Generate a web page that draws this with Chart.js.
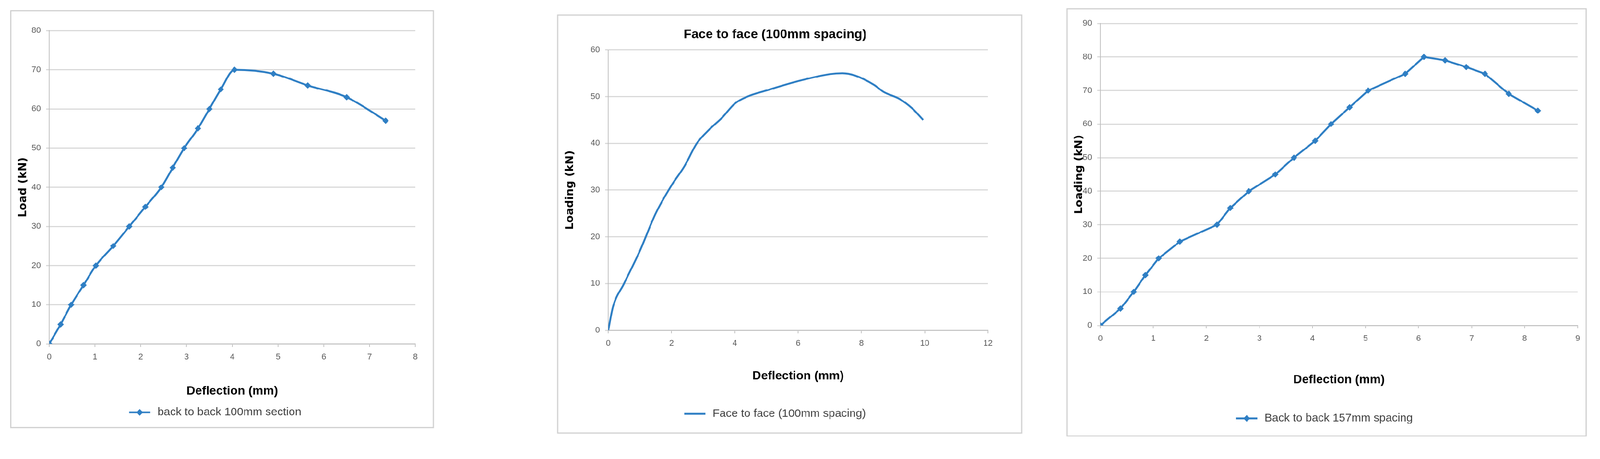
<!DOCTYPE html>
<html><head><meta charset="utf-8">
<script src="https://cdn.jsdelivr.net/npm/chart.js@4"></script>
<style>
html,body{margin:0;background:#fff;overflow:hidden}
#wrap{width:4230px;height:1176px;position:relative;transform-origin:0 0}
.p{position:absolute;border:3px solid #cfcfcf;box-sizing:border-box;background:#fff}
</style></head><body>
<div id="wrap">
<div class="p" style="left:27px;top:27px;width:1120px;height:1106px"><canvas id="c1"></canvas></div>
<div class="p" style="left:1473px;top:38px;width:1230px;height:1109px"><canvas id="c2"></canvas></div>
<div class="p" style="left:2819px;top:22px;width:1376px;height:1133px"><canvas id="c3"></canvas></div>
</div>
<script>
// Panel 1: back to back 100mm section
const defl1 = [0,0.25,0.48,0.75,1.02,1.4,1.75,2.1,2.45,2.7,2.95,3.25,3.5,3.75,4.05,4.9,5.65,6.5,7.35];
const load1 = [0,5,10,15,20,25,30,35,40,45,50,55,60,65,70,69,66,63,57];
// Panel 2: Face to face (100mm spacing)
const defl2 = [0,0.15,0.5,1,1.5,2,2.4,2.8,3.2,3.6,4,4.4,5,6,7,7.4,7.8,8.4,8.7,9.2,9.6,9.95];
const load2 = [0,5,10,17,25,31,35,40,43,45.5,48.5,50,51.3,53.3,54.8,55,54.5,52.5,51,49.5,47.5,45];
// Panel 3: Back to back 157mm spacing
const defl3 = [0,0.38,0.63,0.85,1.1,1.5,2.2,2.45,2.8,3.3,3.65,4.05,4.35,4.7,5.05,5.75,6.1,6.5,6.9,7.25,7.7,8.25];
const load3 = [0,5,10,15,20,25,30,35,40,45,50,55,60,65,70,75,80,79,77,75,69,64];

const sc = Math.min(1, window.innerWidth / 4230);
if (sc < 1) document.getElementById('wrap').style.transform = 'scale(' + sc + ')';

const BLUE = '#2f7fc4';
const NARROW = "'Liberation Sans Narrow','Liberation Sans',Arial,sans-serif";
const TICK = {family:NARROW, size:22};
function pts(xs, ys){ return xs.map((x,i)=>({x, y:ys[i]})); }

// legend sample: line with optional diamond
const legendSample = {
  id:'legendSample',
  afterDraw(chart, args, opts){
    const lg = chart.legend; if(!lg || !lg.legendHitBoxes.length) return;
    const hb = lg.legendHitBoxes[0];
    const ctx = chart.ctx, cy = hb.top + hb.height/2, x0 = hb.left, x1 = hb.left + 56;
    ctx.save();
    ctx.fillStyle = '#fff'; ctx.fillRect(x0-2, hb.top, 62, hb.height);
    ctx.strokeStyle = BLUE; ctx.lineWidth = 5;
    ctx.beginPath(); ctx.moveTo(x0, cy); ctx.lineTo(x1, cy); ctx.stroke();
    if (opts.marker){
      const m = (x0+x1)/2, r = 9;
      ctx.fillStyle = BLUE; ctx.beginPath();
      ctx.moveTo(m, cy-r); ctx.lineTo(m+r, cy); ctx.lineTo(m, cy+r); ctx.lineTo(m-r, cy); ctx.closePath(); ctx.fill();
    }
    ctx.restore();
  }
};

function make(id, o){
  const el = document.getElementById(id);
  const box = el.parentElement;
  el.width = box.clientWidth; el.height = box.clientHeight;
  new Chart(el, {
    type:'scatter',
    plugins:[legendSample],
    data:{datasets:[{
      label:o.label, data:pts(o.xs,o.ys), showLine:true,
      borderColor:BLUE, backgroundColor:BLUE, borderWidth:5,
      pointStyle:'rectRot',
      pointRadius:o.marker ? 8 : 0, pointBorderWidth:1,
      cubicInterpolationMode:o.smooth ? 'monotone' : 'default', tension:0
    }]},
    options:{
      responsive:false, animation:false, maintainAspectRatio:false, devicePixelRatio:1,
      layout:{padding:{top:o.padTop,right:o.padRight,left:10,bottom:o.padBottom}},
      plugins:{
        legendSample:{marker:o.marker},
        title:{display:!!o.title, text:o.title||'', color:'#000',
          font:{family:NARROW,size:34,weight:'bold'}, padding:{top:30,bottom:20}},
        legend:{position:'bottom', labels:{usePointStyle:true, pointStyleWidth:60, boxHeight:10,
          color:'#404040', font:{family:NARROW,size:30}, padding:6}},
        tooltip:{enabled:false}
      },
      scales:{
        x:{type:'linear', min:0, max:o.xmax, ticks:{stepSize:o.xstep, color:'#595959', font:TICK, padding:14},
          grid:{drawOnChartArea:false, color:'#bfbfbf', lineWidth:2, tickLength:8},
          border:{color:'#bfbfbf', width:2},
          title:{display:true, text:'Deflection (mm)', color:'#000',
            font:{family:NARROW,size:32,weight:'bold'}, padding:{top:28,bottom:o.xTitleBottom}},
          afterFit:s=>{s.height=o.xh;}},
        y:{min:0, max:o.ymax, ticks:{stepSize:10, color:'#595959', font:TICK, padding:14},
          grid:{color:'#d9d9d9', lineWidth:3, tickLength:8},
          border:{color:'#bfbfbf', width:2},
          title:{display:true, text:o.ytitle, color:'#000',
            font:{family:"'DejaVu Sans',sans-serif",size:29,weight:'bold'}, padding:{bottom:6}},
          afterFit:s=>{s.width=o.yw;}}
      }
    }
  });
}

make('c1',{label:'back to back 100mm section',xs:defl1,ys:load1,marker:true,smooth:true,
  xmax:8,xstep:1,ymax:80,ytitle:'Load (kN)',padTop:51,padRight:46,padBottom:14,yw:90,xh:160,xTitleBottom:16});
make('c2',{label:'Face to face (100mm spacing)',xs:defl2,ys:load2,marker:false,smooth:true,title:'Face to face (100mm spacing)',
  xmax:12,xstep:2,ymax:60,ytitle:'Loading (kN)',padTop:0,padRight:88,padBottom:24,yw:122,xh:200,xTitleBottom:60});
make('c3',{label:'Back to back 157mm spacing',xs:defl3,ys:load3,marker:true,smooth:false,
  xmax:9,xstep:1,ymax:90,ytitle:'Loading (kN)',padTop:37,padRight:21,padBottom:20,yw:77,xh:225,xTitleBottom:62});
</script>
</body></html>
